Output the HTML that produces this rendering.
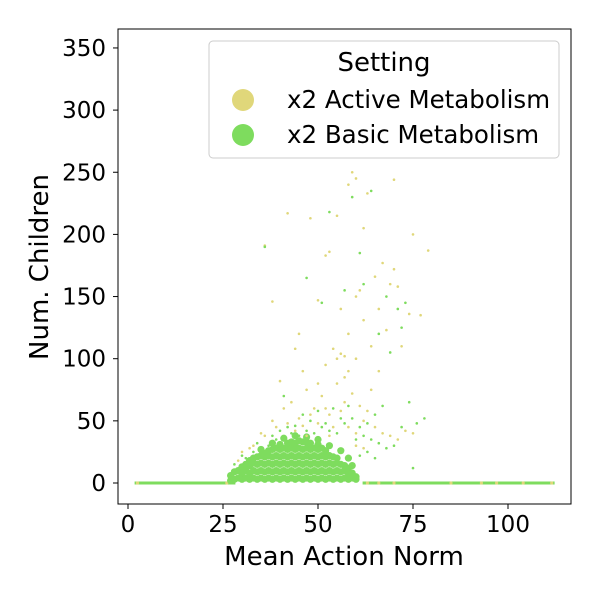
<!DOCTYPE html>
<html><head><meta charset="utf-8"><style>
body{margin:0;background:#fff;font-family:"Liberation Sans","DejaVu Sans",sans-serif}
svg text{font-family:"DejaVu Sans","Liberation Sans",sans-serif}
</style></head><body>
<svg id="c" width="600" height="600"></svg>
<script>
const xTicks=[0,25,50,75,100];
const yTicks=[0,50,100,150,200,250,300,350];
const baseX=[2,4,6,8,10,12,14,16,18,20,22,24,26,62,64,66,68,70,72,74,76,78,80,82,84,86,88,90,92,94,96,98,100,102,104,106,108,110];
const baseYellowX=[2.5,26,63,66,70,85,93,97,104,111.5];
const yellowPts=[[36,191],[38,146],[42,217],[45,120],[46,90],[48,213],[50,147],[52,183],[53,186],[54,108],[55,215],[56,104],[57,102],[58,90],[58,240],[59,250],[60,245],[60,150],[61,155],[62,131],[62,205],[63,233],[64,110],[65,166],[66,140],[66,90],[67,177],[68,123],[69,160],[70,244],[70,172],[71,158],[72,110],[74,136],[75,200],[77,135],[79,187],[40,82],[43,65],[47,75],[49,60],[51,70],[53,55],[55,80],[57,65],[59,72],[61,62],[63,58],[65,45],[67,40],[69,38],[71,35],[73,42],[75,40],[64,75],[60,100],[58,120],[56,140],[44,108],[52,95],[41,60],[38,50],[35,40],[33,30],[30,25],[62,50],[60,40],[58,45],[54,45],[50,48],[46,46],[44,42],[48,55],[52,60],[56,58],[45,52],[50,80],[55,100],[57,85],[42,48],[39,45],[36,38],[47,38],[53,38],[29,18],[32,28],[62,28],[60,30]];
const greenPts=[[36,190],[41,70],[47,165],[51,145],[53,218],[57,155],[59,230],[61,185],[62,160],[64,235],[66,120],[68,150],[69,105],[71,140],[72,125],[73,145],[76,48],[78,52],[74,65],[67,62],[65,55],[63,48],[61,45],[59,52],[57,48],[55,40],[53,42],[51,45],[49,40],[47,42],[45,38],[43,40],[41,35],[39,35],[37,30],[35,28],[33,25],[31,20],[70,30],[68,28],[66,32],[64,35],[62,38],[60,35],[48,50],[52,48],[56,52],[44,46],[46,55],[50,58],[54,60],[58,62],[40,42],[38,38],[42,45],[34,32],[30,22],[28,15],[63,25],[65,20],[61,22],[72,45],[75,12]];
const blobPts=[[27,2],[27,6],[28,3],[28,9],[29,4],[29,10],[30,3],[30,8],[30,13],[31,4],[31,10],[31,15],[32,3],[32,8],[32,14],[32,18],[33,4],[33,10],[33,16],[33,20],[34,3],[34,9],[34,15],[34,21],[35,4],[35,10],[35,16],[35,22],[36,3],[36,9],[36,15],[36,21],[36,24],[37,4],[37,10],[37,16],[37,22],[37,26],[38,3],[38,9],[38,15],[38,21],[38,27],[39,4],[39,10],[39,16],[39,22],[39,28],[40,3],[40,9],[40,15],[40,21],[40,27],[40,31],[41,4],[41,10],[41,16],[41,22],[41,28],[42,3],[42,9],[42,15],[42,21],[42,27],[42,32],[43,4],[43,10],[43,16],[43,22],[43,28],[43,33],[44,3],[44,9],[44,15],[44,21],[44,27],[44,32],[45,4],[45,10],[45,16],[45,22],[45,28],[45,34],[46,3],[46,9],[46,15],[46,21],[46,27],[46,33],[47,4],[47,10],[47,16],[47,22],[47,28],[47,33],[48,3],[48,9],[48,15],[48,21],[48,27],[48,32],[49,4],[49,10],[49,16],[49,22],[49,28],[50,3],[50,9],[50,15],[50,21],[50,27],[50,31],[51,4],[51,10],[51,16],[51,22],[51,28],[52,3],[52,9],[52,15],[52,21],[52,26],[53,4],[53,10],[53,16],[53,22],[54,3],[54,9],[54,15],[54,21],[55,4],[55,10],[55,16],[55,20],[56,3],[56,9],[56,15],[57,4],[57,10],[57,14],[58,3],[58,8],[58,12],[59,4],[59,8],[60,3],[60,5],[41,36],[44,38],[47,37],[50,35],[53,30],[56,26],[38,32],[35,27],[58,20],[59,14]];
const X0=128,XS=3.8,Y0=483,YS=1.243;
const sx=v=>X0+v*XS, sy=v=>Y0-v*YS;
const svg=document.getElementById('c');const NS='http://www.w3.org/2000/svg';
function mk(t,a,p){const e=document.createElementNS(NS,t);for(const k in a)e.setAttribute(k,a[k]);(p||svg).appendChild(e);return e;}
const YEL='#e0d77a',GRN='#7edc5e';
const g=mk('g',{});


baseX.forEach(x=>{const e=mk('rect',{x:sx(x)-1,y:sy(0)-1.5,width:XS*2+2,height:3,fill:GRN},g);

});
baseYellowX.forEach(x=>{const e=mk('circle',{cx:sx(x),cy:sy(0),r:1.6,fill:YEL},g);

});
blobPts.forEach(p=>{const e=mk('circle',{cx:sx(p[0]),cy:sy(p[1]),r:3.6,fill:GRN},g);

});
yellowPts.forEach(p=>{const e=mk('circle',{cx:sx(p[0]),cy:sy(p[1]),r:1.3,fill:YEL},g);

});
greenPts.forEach(p=>{const e=mk('circle',{cx:sx(p[0]),cy:sy(p[1]),r:1.3,fill:GRN},g);

});
const fr=mk('rect',{x:118,y:29,width:453,height:475,fill:'none',stroke:'#000','stroke-width':1});


xTicks.forEach(t=>{mk('line',{x1:sx(t),x2:sx(t),y1:504,y2:509,stroke:'#000'});
const e=mk('text',{x:sx(t),y:532,'text-anchor':'middle','font-size':23});e.textContent=t;

});
yTicks.forEach(t=>{mk('line',{x1:113,x2:118,y1:sy(t),y2:sy(t),stroke:'#000'});
const e=mk('text',{x:106,y:sy(t)+8,'text-anchor':'end','font-size':23});e.textContent=t;

});
let e=mk('text',{x:344,y:565,'text-anchor':'middle','font-size':26});e.textContent='Mean Action Norm';


e=mk('text',{x:48,y:267,'text-anchor':'middle','font-size':26,transform:'rotate(-90 48 267)'});e.textContent='Num. Children';


const lg=mk('g',{});


mk('rect',{x:209,y:41,width:350,height:117,rx:4,fill:'#fff','fill-opacity':0.8,stroke:'#ccc'},lg);
e=mk('text',{x:384,y:71,'text-anchor':'middle','font-size':26},lg);e.textContent='Setting';


[['x2 Active Metabolism',YEL,100],['x2 Basic Metabolism',GRN,135]].forEach(r=>{
mk('circle',{cx:243,cy:r[2],r:11,fill:r[1]},lg);
const t=mk('text',{x:287,y:r[2]+8,'font-size':24.5},lg);t.textContent=r[0];

});
</script></body></html>
